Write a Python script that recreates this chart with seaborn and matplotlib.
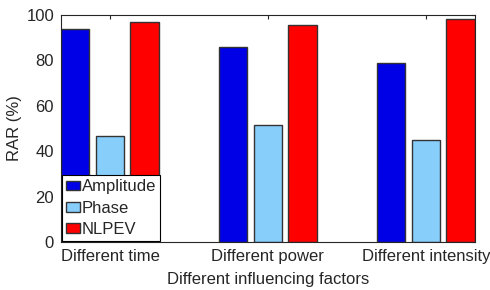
import numpy as np
import pandas as pd
import seaborn as sns
import matplotlib
matplotlib.use("Agg")
import matplotlib.pyplot as plt

factors = ["Different time", "Different power", "Different intensity"]
methods = ["Amplitude", "Phase", "NLPEV"]
amplitude = [94.0, 85.8, 78.9]
phase = [46.6, 51.4, 44.8]
nlpev = [96.9, 95.7, 98.1]
colors = ["#0000E6", "#87CEFA", "#FF0000"]

df = pd.DataFrame({
    "factor": factors * 3,
    "method": [m for m in methods for _ in factors],
    "rar": amplitude + phase + nlpev,
})

sns.set_style("white")
plt.rcParams["font.family"] = ["Liberation Sans", "DejaVu Sans"]

fig = plt.figure(figsize=(4.9, 2.9), dpi=100)
ax = fig.add_axes([0.1245, 0.1655, 0.8445, 0.7825])

sns.barplot(data=df, x="factor", y="rar", hue="method", order=factors,
            hue_order=methods, palette=colors, width=0.66, gap=0.18,
            edgecolor="#333333", linewidth=1.0, saturation=1, ax=ax)

ax.set_xlim(-0.31, 2.31)
ax.set_ylim(0, 100)
ax.set_yticks([0, 20, 40, 60, 80, 100])
ax.set_xlabel("Different influencing factors", fontsize=12, color="#262626", labelpad=6)
ax.set_ylabel("RAR (%)", fontsize=12, color="#262626", labelpad=3)
ax.tick_params(axis="both", direction="in", length=3, labelsize=12,
               colors="#262626", top=True, right=True, pad=5)
for s in ax.spines.values():
    s.set_color("#262626")
    s.set_linewidth(0.8)

leg = ax.legend(loc="lower left", fontsize=12, frameon=True, fancybox=False,
                edgecolor="black", framealpha=1, handlelength=0.85,
                handleheight=0.5, handletextpad=0.1, borderpad=0.25,
                labelspacing=0.38, borderaxespad=0.05)
leg.get_frame().set_linewidth(0.8)

fig.savefig("out.png", dpi=100)
